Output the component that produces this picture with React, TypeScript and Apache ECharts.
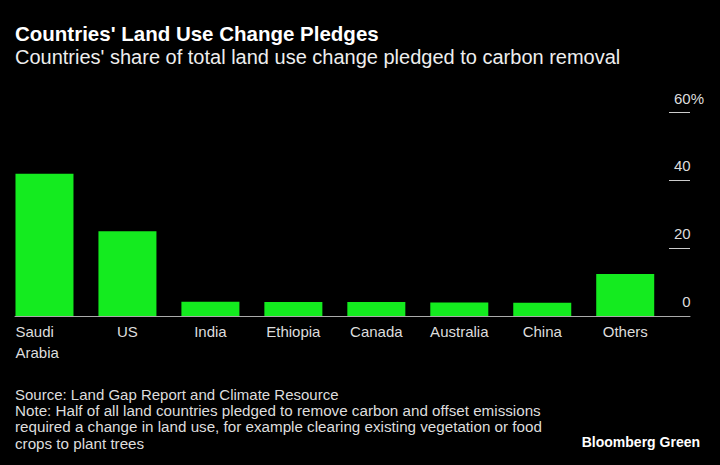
import React, { useEffect, useRef } from "react";
import * as echarts from "echarts";

const categories = ["Saudi Arabia", "US", "India", "Ethiopia", "Canada", "Australia", "China", "Others"];
const shares = [42.0, 25.0, 4.2, 4.1, 4.1, 4.0, 3.9, 12.4];
const yTicks = [0, 20, 40, 60];

const FONT = "'Liberation Sans', Arial, sans-serif";

export default function App() {
  const ref = useRef<HTMLDivElement>(null);
  useEffect(() => {
    document.body.style.margin = "0";
    document.body.style.background = "#000";
    const chart = echarts.init(ref.current!, null, { renderer: "svg" });
    const yMax = yTicks[yTicks.length - 1];
    const yInt = yTicks[1] - yTicks[0];
    const top = 112.7;
    const bottom = 149;
    chart.setOption({
      animation: false,
      backgroundColor: "#000",
      textStyle: { fontFamily: FONT },
      title: [
        { text: "Countries' Land Use Change Pledges", left: 10, top: 17.5, textStyle: { fontFamily: FONT, fontSize: 20.5, fontWeight: "bold", color: "#fff" } },
        { text: "Countries' share of total land use change pledged to carbon removal", left: 10, top: 41.5, textStyle: { fontFamily: FONT, fontSize: 20, fontWeight: "normal", color: "#eee" } },
        { text: "Source: Land Gap Report and Climate Resource", left: 10, top: 381.5, textStyle: { fontFamily: FONT, fontSize: 15, fontWeight: "normal", color: "#ddd" } },
        {
          text: "Note: Half of all land countries pledged to remove carbon and offset emissions\nrequired a change in land use, for example clearing existing vegetation or food\ncrops to plant trees",
          left: 10, top: 397.4,
          textStyle: { fontFamily: FONT, fontSize: 15.2, lineHeight: 16.3, fontWeight: "normal", color: "#ddd" },
        },
        { text: "Bloomberg Green", right: 15, top: 430, textStyle: { fontFamily: FONT, fontSize: 14, fontWeight: "bold", color: "#fff" } },
      ],
      grid: [
        { left: 3, width: 663.7, top, bottom },
        { left: 15, right: 30, top, bottom },
        { left: 669, right: 30, top, bottom },
      ],
      xAxis: [
        {
          type: "category",
          gridIndex: 0,
          data: categories,
          axisLine: { show: false },
          axisTick: { show: false },
          axisLabel: {
            fontFamily: FONT,
            fontSize: 15,
            color: "#ddd",
            margin: 5,
            lineHeight: 21,
            interval: 0,
            formatter: (v: string) => (v === "Saudi Arabia" ? "{l|Saudi}\n{l|Arabia}" : v),
            rich: { l: { width: 58, align: "left", fontFamily: FONT, fontSize: 15, color: "#ddd", lineHeight: 21 } },
          },
        },
        {
          type: "value",
          gridIndex: 1,
          min: 0,
          max: 1,
          axisLine: { show: true, lineStyle: { color: "#aaa", width: 1 } },
          axisTick: { show: false },
          axisLabel: { show: false },
          splitLine: { show: false },
        },
        {
          type: "value",
          gridIndex: 2,
          min: 0,
          max: 1,
          show: false,
        },
      ],
      yAxis: [
        { type: "value", gridIndex: 0, min: 0, max: yMax, interval: yInt, show: false },
        { type: "value", gridIndex: 1, min: 0, max: yMax, interval: yInt, show: false },
        {
          type: "value",
          gridIndex: 2,
          position: "right",
          min: 0,
          max: yMax,
          interval: yInt,
          axisLine: { show: false },
          axisTick: { show: false },
          splitLine: { show: true, lineStyle: { color: "#ccc", width: 1 } },
          axisLabel: {
            inside: true,
            margin: -14,
            fontFamily: FONT,
            fontSize: 15,
            color: "#ddd",
            verticalAlign: "bottom",
            padding: [0, 0, 7, 0],
            formatter: (v: number) => (v === yMax ? `{n|${v}}{n|%}` : `{n|${v}}{h|%}`),
            rich: {
              n: { fontFamily: FONT, fontSize: 15, color: "#ddd" },
              h: { fontFamily: FONT, fontSize: 15, color: "rgba(0,0,0,0)" },
            },
          },
        },
      ],
      series: [
        {
          type: "bar",
          xAxisIndex: 0,
          yAxisIndex: 0,
          data: shares,
          barWidth: 58,
          itemStyle: { color: "#14EB1F" },
        },
      ],
    });
    return () => chart.dispose();
  }, []);
  return <div ref={ref} style={{ width: 720, height: 465 }} />;
}
